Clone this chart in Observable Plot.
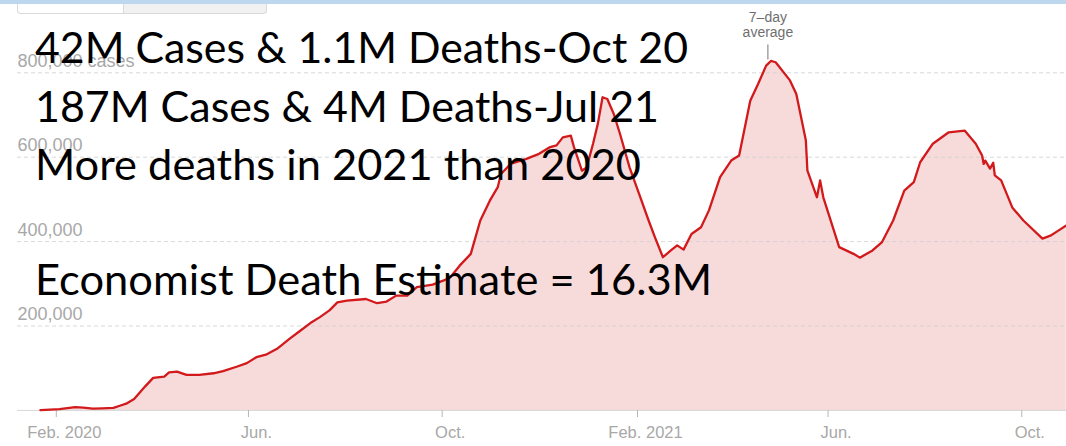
<!DOCTYPE html>
<html>
<head>
<meta charset="utf-8">
<script src="https://cdn.jsdelivr.net/npm/d3@7"></script>
<script src="https://cdn.jsdelivr.net/npm/@observablehq/plot@0.6"></script>
<style>
  html, body { margin: 0; padding: 0; background: #fff; }
  #wrap { position: relative; width: 1066px; height: 446px; overflow: hidden; background: #fff; }
  #wrap svg { position: absolute; left: 0; top: 0; }
  .topbar { position: absolute; left: 0; top: 0; width: 1066px; height: 4px; background: #bdd7ee; z-index: 2; }
  .tabs { position: absolute; left: 17px; top: 4px; width: 250px; height: 10px; box-sizing: border-box;
          border: 1px solid #d9d9d9; border-top: none; border-radius: 0 0 4px 4px; background: #f1f1f1; z-index: 2; }
  .tabs .on { position: absolute; left: 0; top: 0; width: 105px; height: 9px; background: #fff; border-right: 1px solid #d9d9d9; border-radius: 0 0 0 4px; }
</style>
</head>
<body>
<div id="wrap">
  <div class="topbar"></div>
  <div class="tabs"><div class="on"></div></div>
</div>
<script>
// Global new COVID-19 cases, 7-day average
const dates = [
  "2020-01-22","2020-02-03","2020-02-13","2020-02-18","2020-02-24","2020-03-01","2020-03-08","2020-03-12",
  "2020-03-16","2020-03-21","2020-03-25","2020-03-28","2020-04-02","2020-04-09","2020-04-12","2020-04-17",
  "2020-04-23","2020-05-01","2020-05-10","2020-05-16","2020-05-25","2020-05-31","2020-06-06","2020-06-12",
  "2020-06-19","2020-06-27","2020-07-03","2020-07-10","2020-07-16","2020-07-22","2020-07-27","2020-08-02",
  "2020-08-14","2020-08-21","2020-08-27","2020-09-02","2020-09-09","2020-09-15","2020-09-25","2020-10-02",
  "2020-10-06","2020-10-12","2020-10-19","2020-10-25","2020-10-31","2020-11-05","2020-11-07","2020-11-13",
  "2020-11-23","2020-12-01","2020-12-08","2020-12-12","2020-12-16","2020-12-21","2020-12-23","2020-12-28",
  "2020-12-31","2021-01-04","2021-01-07","2021-01-10","2021-01-13","2021-01-17","2021-01-21","2021-01-27",
  "2021-02-02","2021-02-08","2021-02-12","2021-02-17","2021-02-22","2021-02-26","2021-03-02","2021-03-07",
  "2021-03-13","2021-03-18","2021-03-25","2021-04-01","2021-04-06","2021-04-13","2021-04-18","2021-04-23",
  "2021-04-26","2021-04-29","2021-05-08","2021-05-12","2021-05-18","2021-05-19","2021-05-25","2021-05-27",
  "2021-05-29","2021-06-08","2021-06-17","2021-06-21","2021-06-29","2021-07-05","2021-07-12","2021-07-19",
  "2021-07-25","2021-07-29","2021-08-06","2021-08-16","2021-08-26","2021-09-02","2021-09-06","2021-09-07",
  "2021-09-08","2021-09-11","2021-09-13","2021-09-14","2021-09-18","2021-09-25","2021-10-02","2021-10-14",
  "2021-10-19","2021-10-24","2021-10-29"
];
const cases = [
  500, 3000, 8000, 6500, 4000, 5000, 6000, 11000,
  16000, 27000, 44000, 57000, 77000, 80000, 90000, 92000,
  84000, 84000, 88000, 93000, 104000, 112000, 126000, 132000,
  146000, 170000, 187000, 207000, 221000, 237000, 256000, 260000,
  264000, 254000, 258000, 272000, 272000, 292000, 298000, 308000,
  315000, 343000, 371000, 450000, 497000, 529000, 560000, 584000,
  596000, 608000, 624000, 628000, 647000, 651000, 624000, 568000,
  576000, 632000, 679000, 742000, 738000, 703000, 655000, 576000,
  513000, 450000, 410000, 363000, 379000, 391000, 381000, 418000,
  434000, 474000, 553000, 592000, 604000, 734000, 774000, 817000,
  828000, 825000, 782000, 750000, 640000, 568000, 505000, 545000,
  505000, 387000, 371000, 362000, 379000, 399000, 450000, 521000,
  541000, 588000, 632000, 659000, 663000, 632000, 604000, 584000,
  592000, 573000, 587000, 557000, 545000, 481000, 450000, 407000,
  414000, 426000, 438000
];
const yTicks = [200000, 400000, 600000, 800000];
const yTickLabels = ["200,000", "400,000", "600,000", "800,000 cases"];
const xTicks = ["2020-02-01", "2020-06-01", "2020-10-01", "2021-02-01", "2021-06-01", "2021-10-01"];
const xTickLabels = ["Feb. 2020", "Jun.", "Oct.", "Feb. 2021", "Jun.", "Oct."];
const annotationText = "7–day\naverage";
const overlayLines = [
  "42M Cases & 1.1M Deaths-Oct 20",
  "187M Cases & 4M Deaths-Jul 21",
  "More deaths in 2021 than 2020",
  "Economist Death Estimate = 16.3M"
];

const data = dates.map((d, i) => ({date: new Date(d), cases: cases[i]}));
const xTickDates = xTicks.map(d => new Date(d));
const labelOf = new Map(xTickDates.map((d, i) => [+d, xTickLabels[i]]));
const yLabelOf = new Map(yTicks.map((v, i) => [v, yTickLabels[i]]));
const peak = d3.greatest(data, d => d.cases);

const axisFont = "'Liberation Sans', Arial, sans-serif";

const chart = Plot.plot({
  width: 1066,
  height: 446,
  marginLeft: 17,
  marginRight: 0,
  marginTop: 0,
  marginBottom: 36,
  style: {background: "transparent", overflow: "visible"},
  x: {type: "utc", domain: [new Date("2020-02-01"), new Date("2021-10-01")], range: [55.8, 1021.3]},
  y: {domain: [0, 800000], range: [409.9, 72.3], axis: null},
  marks: [
    Plot.areaY(data, {x: "date", y: "cases", fill: "#f7dbdb"}),
    Plot.ruleY(yTicks, {stroke: "#cfcfcf", strokeDasharray: "4,3", strokeOpacity: 0.8}),
    Plot.ruleY([0], {stroke: "#d6d6d6", strokeWidth: 1}),
    Plot.text(yTicks, {
      y: d => d, text: d => yLabelOf.get(d), frameAnchor: "left", textAnchor: "start",
      lineAnchor: "bottom", dy: -6, fontSize: 18, fill: "#a8a8a8", fontFamily: axisFont
    }),
    Plot.axisX({ticks: xTickDates, tickFormat: () => "", tickSize: 7, stroke: "#b5b5b5"}),
    Plot.axisX({
      ticks: xTickDates, tickFormat: d => labelOf.get(+d), tickSize: 0, tickPadding: 16,
      dx: 8, fontSize: 16.5, fill: "#a8a8a8", fontFamily: axisFont
    }),
    Plot.lineY(data, {x: "date", y: "cases", stroke: "#d21a1c", strokeWidth: 2.3, strokeLinejoin: "round"}),
    Plot.ruleX([peak], {x: "date", y1: "cases", y2: "cases", insetTop: -16, insetBottom: 1, stroke: "#777", dx: -3}),
    Plot.text([peak], {
      x: "date", y: "cases", text: () => annotationText, lineAnchor: "bottom", lineHeight: 1.04,
      dy: -24, dx: -3, fontSize: 14, fill: "#6f6f6f", fontFamily: axisFont
    })
  ]
});

document.getElementById("wrap").prepend(chart);

// Large overlay statements
const baselines = [63, 122, 180, 295];
const rightEdges = [688, 659, 641, 712];
const left = 35;
const g = d3.select(chart).append("g")
  .attr("font-family", "Lato, 'Open Sans', sans-serif")
  .attr("font-size", 42)
  .attr("text-anchor", "start")
  .attr("fill", "#000");
overlayLines.forEach((t, i) => {
  g.append("text")
    .attr("x", left)
    .attr("y", baselines[i])
    .attr("text-anchor", "start")
    .attr("textLength", rightEdges[i] - left)
    .attr("lengthAdjust", "spacingAndGlyphs")
    .text(t);
});
</script>
</body>
</html>
